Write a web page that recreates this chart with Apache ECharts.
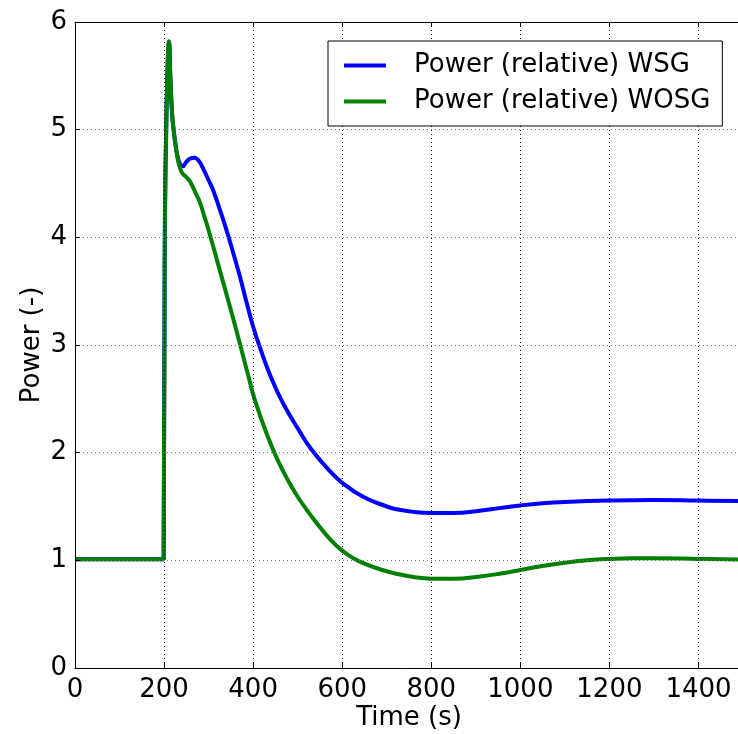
<!DOCTYPE html>
<html>
<head>
<meta charset="utf-8">
<script src="https://cdn.jsdelivr.net/npm/echarts@6/dist/echarts.min.js"></script>
<style>
html,body{margin:0;padding:0;background:#fff;overflow:hidden;}
#chart{width:738px;height:734px;}
</style>
</head>
<body>
<div id="chart"></div>
<script>
// ---- data ----
const seriesNames = ['Power (relative) WSG', 'Power (relative) WOSG'];
const xTicks = [0, 200, 400, 600, 800, 1000, 1200, 1400];
const yTicks = [0, 1, 2, 3, 4, 5, 6];

const timeWSG = [0, 150, 199, 200, 201, 202, 205, 208, 211, 214, 218, 222, 226, 231, 236, 242, 250, 258, 268, 278, 290, 300, 310, 325, 340, 355, 370, 385, 400, 415, 440, 467, 504, 531, 572, 600, 647, 700, 722, 760, 800, 850, 909, 953, 1000, 1050, 1100, 1200, 1300, 1400, 1500];
const powerWSG = [1.01, 1.01, 1.01, 1.01, 3.2, 4.2, 5.05, 5.6, 5.82, 5.5, 5.15, 4.98, 4.85, 4.74, 4.68, 4.66, 4.7, 4.73, 4.74, 4.71, 4.62, 4.53, 4.44, 4.26, 4.07, 3.86, 3.64, 3.4, 3.17, 2.98, 2.7, 2.46, 2.2, 2.03, 1.83, 1.72, 1.59, 1.5, 1.475, 1.45, 1.44, 1.44, 1.46, 1.485, 1.51, 1.53, 1.542, 1.555, 1.56, 1.555, 1.55];

const timeWOSG = [0, 150, 199, 200, 201, 202, 205, 208, 211, 214, 218, 222, 226, 231, 236, 242, 250, 258, 270, 280, 290, 299, 320, 347, 371, 390, 403, 430, 453, 480, 504, 540, 572, 600, 625, 647, 690, 722, 760, 800, 850, 909, 953, 1000, 1050, 1100, 1150, 1200, 1250, 1300, 1400, 1500];
const powerWOSG = [1.01, 1.01, 1.01, 1.01, 3.2, 4.2, 5.05, 5.6, 5.82, 5.5, 5.15, 4.98, 4.85, 4.72, 4.64, 4.59, 4.56, 4.52, 4.42, 4.33, 4.2, 4.08, 3.77, 3.37, 3.0, 2.7, 2.5, 2.18, 1.95, 1.73, 1.565, 1.36, 1.2, 1.09, 1.02, 0.975, 0.91, 0.875, 0.845, 0.83, 0.83, 0.85, 0.875, 0.91, 0.948, 0.978, 1.0, 1.013, 1.02, 1.02, 1.013, 1.006];

const FONT = 'DejaVu Sans';
const FS = 26;

function pairs(xs, ys) { return xs.map((x, i) => [x, ys[i]]); }

const chart = echarts.init(document.getElementById('chart'), null, {renderer: 'canvas', width: 738, height: 734});
const option = {
  animation: false,
  backgroundColor: '#fff',
  textStyle: {fontFamily: FONT, color: '#000'},
  grid: {left: 75, width: 668, top: 22, height: 646, containLabel: false, outerBoundsMode: 'none'},
  legend: {
    orient: 'vertical',
    left: 328, top: 41,
    data: seriesNames,
    icon: 'rect',
    itemWidth: 42, itemHeight: 4,
    itemGap: 10,
    padding: [11.5, 12, 11.5, 16],
    borderColor: '#000', borderWidth: 1, borderRadius: 0,
    backgroundColor: '#fff',
    textStyle: {fontFamily: FONT, fontSize: FS, color: '#000', padding: [0, 0, 0, 23]}
  },
  xAxis: [{
    type: 'value', min: 0, max: 1500, interval: 200, position: 'bottom', z: 3,
    name: 'Time (s)', nameLocation: 'middle', nameGap: 37, nameMoveOverlap: false,
    nameTextStyle: {fontFamily: FONT, fontSize: FS, color: '#000'},
    axisLine: {show: true, onZero: false, lineStyle: {color: '#000', width: 1}},
    axisTick: {show: true, inside: true, length: 5, lineStyle: {color: '#000'}},
    axisLabel: {fontFamily: FONT, fontSize: FS, color: '#000', margin: 9, showMaxLabel: false,
      formatter: v => xTicks.includes(v) ? String(v) : ''},
    splitLine: {show: true, lineStyle: {color: '#000', width: 1, type: [1, 3]}}
  }, {
    type: 'value', min: 0, max: 1500, interval: 200, position: 'top', z: 3,
    axisLine: {show: true, onZero: false, lineStyle: {color: '#000', width: 1}},
    axisTick: {show: true, inside: true, length: 5, lineStyle: {color: '#000'}},
    axisLabel: {show: false},
    splitLine: {show: false}
  }],
  yAxis: [{
    type: 'value', min: 0, max: 6, interval: 1, z: 3,
    name: 'Power (-)', nameLocation: 'middle', nameGap: 30, nameMoveOverlap: false,
    nameTextStyle: {fontFamily: FONT, fontSize: FS, color: '#000'},
    axisLine: {show: true, onZero: false, lineStyle: {color: '#000', width: 1}},
    axisTick: {show: true, inside: true, length: 5, lineStyle: {color: '#000'}},
    axisLabel: {fontFamily: FONT, fontSize: FS, color: '#000', margin: 8,
      formatter: v => yTicks.includes(v) ? String(v) : ''},
    splitLine: {show: true, lineStyle: {color: '#777', width: 1, type: [1, 3]}}
  }],
  series: [{
    name: seriesNames[0], type: 'line', data: pairs(timeWSG, powerWSG),
    showSymbol: false, smooth: 0.45,
    lineStyle: {color: '#0000ff', width: 4}, itemStyle: {color: '#0000ff'}, z: 2
  }, {
    name: seriesNames[1], type: 'line', data: pairs(timeWOSG, powerWOSG),
    showSymbol: false, smooth: 0.45,
    lineStyle: {color: '#008000', width: 4}, itemStyle: {color: '#008000'}, z: 2
  }]
};
chart.setOption(option);
</script>
</body>
</html>
